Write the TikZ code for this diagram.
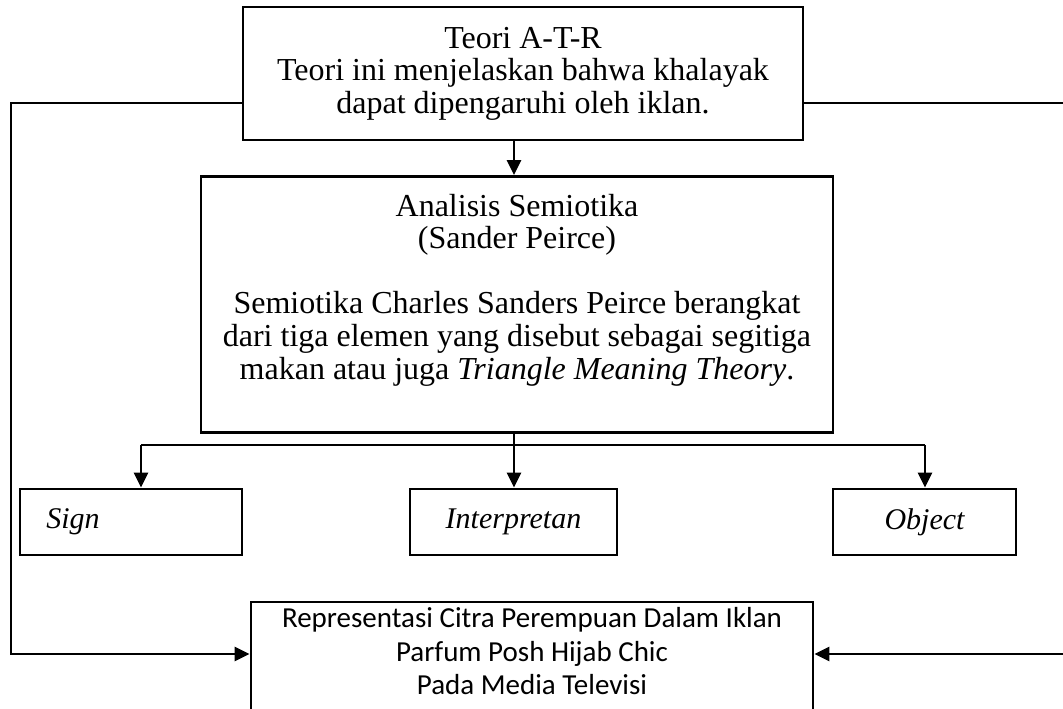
\documentclass[tikz,border=0pt]{standalone}
\usepackage{fontspec}
\setmainfont{Liberation Serif}
\newfontfamily\calib{Carlito}
\usetikzlibrary{arrows.meta}
\begin{document}
\begin{tikzpicture}[x=1pt,y=-1pt,
  box/.style={draw, line width=2.8pt, inner sep=0pt},
  ln/.style={line width=2.8pt},
  arr/.style={line width=2.8pt, -{Triangle[length=15pt,width=14pt]}},
  serif/.style={font=\fontsize{32}{32.6}\selectfont, align=center, inner sep=0pt},
  sans/.style={font=\calib\fontsize{29}{33.5}\selectfont, align=center, inner sep=0pt},
  ital/.style={font=\fontsize{30}{32.6}\selectfont\itshape, inner sep=0pt},
]
\useasboundingbox (0,0) rectangle (1063,709);

% boxes
\node[box, serif, minimum width=560pt, minimum height=133pt] (top) at (523,73.5)
  {Teori A-T-R\\Teori ini menjelaskan bahwa khalayak\\dapat dipengaruhi oleh iklan.};

\node[box, minimum width=632pt, minimum height=256pt] (ana) at (517,304.5) {};
\node[serif] (anat) at (517,290)
  {Analisis Semiotika\\(Sander Peirce)\\[32.6pt]Semiotika Charles Sanders Peirce berangkat\\dari tiga elemen yang disebut sebagai segitiga\\makan atau juga \textit{Triangle Meaning Theory}.};

\node[box, minimum width=222pt, minimum height=66pt] (sign) at (131,522) {};
\node[ital] (signt) at (73,522) {Sign};
\node[box, ital, minimum width=207pt, minimum height=66pt] (interp) at (513.5,522) {Interpretan};
\node[box, ital, minimum width=183pt, minimum height=66pt] (obj) at (924.5,522) {Object};

\node[box, minimum width=562pt, minimum height=150pt] (bot) at (532,677) {};
\node[sans] (bott) at (532,651.5)
  {Representasi Citra Perempuan Dalam Iklan\\Parfum Posh Hijab Chic\\Pada Media Televisi};

% helper coordinates
\coordinate (mid) at (514,0);
\coordinate (dl) at (141,445);
\coordinate (dm) at (514,445);
\coordinate (dr) at (925,445);
\coordinate (ly) at (0,103);
\coordinate (lc) at (11,654);
\coordinate (rc) at (1068,654);

% connectors
\draw[arr] (top.south -| mid) -- (ana.north -| mid);
\draw[ln] (ana.south -| mid) -- (dm);
\draw[ln] (dl) -- (dr);
\draw[arr] (dm) -- (interp.north -| dm);
\draw[arr] (dl) -- (sign.north -| dl);
\draw[arr] (dr) -- (obj.north -| dr);

\draw[arr] (top.west |- ly) -| (lc) -- (bot.west |- lc);
\draw[arr] (top.east |- ly) -| (rc) -- (bot.east |- rc);
\end{tikzpicture}
\end{document}
